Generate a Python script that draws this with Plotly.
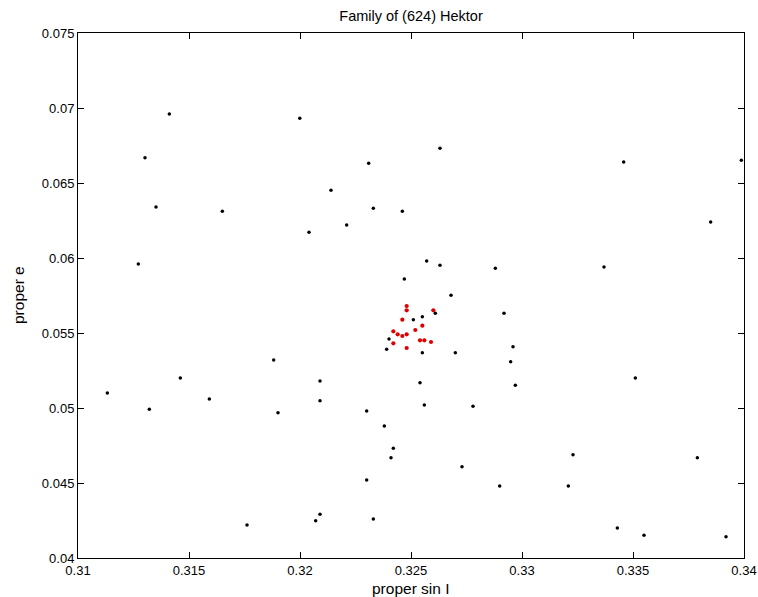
import plotly.graph_objects as go

# Background asteroids (proper sin I, proper e)
bg_sini = [
    0.314114, 0.313018, 0.313514, 0.316502, 0.312718,
    0.319990, 0.326306, 0.323093, 0.321396, 0.323303, 0.324610, 0.322102,
    0.320405, 0.325706, 0.326306, 0.328799, 0.324700, 0.326802,
    0.334580, 0.339880, 0.338498, 0.333694,
    0.318814, 0.314610, 0.311321, 0.315916, 0.313213, 0.319009, 0.317613,
    0.329189, 0.326096, 0.325511, 0.325105, 0.324009, 0.323904, 0.325511,
    0.326997, 0.329595, 0.329489, 0.329700, 0.320901, 0.325405, 0.320901,
    0.325601, 0.327793, 0.323003, 0.323799, 0.324204, 0.324099, 0.327297,
    0.323003, 0.328994, 0.320901, 0.320706, 0.323303,
    0.335105, 0.332297, 0.337898, 0.332087, 0.334294, 0.335495, 0.339189,
]
bg_e = [
    0.069600, 0.066689, 0.063400, 0.063111, 0.059600,
    0.069311, 0.067311, 0.066311, 0.064511, 0.063311, 0.063111, 0.062200,
    0.061711, 0.059800, 0.059511, 0.059311, 0.058600, 0.057520,
    0.066400, 0.066511, 0.062400, 0.059400,
    0.053200, 0.052000, 0.051000, 0.050600, 0.049911, 0.049689, 0.042200,
    0.056311, 0.056311, 0.056089, 0.055889, 0.054600, 0.053911, 0.053689,
    0.053689, 0.054089, 0.053089, 0.051511, 0.051800, 0.051689, 0.050489,
    0.050200, 0.050111, 0.049800, 0.048800, 0.047311, 0.046689, 0.046089,
    0.045200, 0.044800, 0.042911, 0.042489, 0.042600,
    0.052000, 0.046889, 0.046689, 0.044800, 0.042000, 0.041511, 0.041422,
]

# Family members
fam_sini = [
    0.324805, 0.324805, 0.326006, 0.324610, 0.325511, 0.325195, 0.324204,
    0.324399, 0.324610, 0.324805, 0.325405, 0.325601, 0.325901, 0.324204,
    0.324805,
]
fam_e = [
    0.056800, 0.056511, 0.056511, 0.055889, 0.055489, 0.055200, 0.055111,
    0.054911, 0.054800, 0.054911, 0.054511, 0.054511, 0.054400, 0.054311,
    0.054000,
]

x_ticks = [0.31, 0.315, 0.32, 0.325, 0.33, 0.335, 0.34]
x_tick_text = ["0.31", "0.315", "0.32", "0.325", "0.33", "0.335", "0.34"]
y_ticks = [0.04, 0.045, 0.05, 0.055, 0.06, 0.065, 0.07, 0.075]
y_tick_text = ["0.04", "0.045", "0.05", "0.055", "0.06", "0.065", "0.07", "0.075"]

FONT = "Liberation Sans, Arial, Helvetica, sans-serif"
W, H = 758, 597
ML, MR, MT, MB = 78, 14, 33, 39

fig = go.Figure()
fig.add_trace(go.Scatter(
    x=bg_sini, y=bg_e, mode="markers",
    marker=dict(color="black", size=3.5, line=dict(width=0)),
    showlegend=False,
))
fig.add_trace(go.Scatter(
    x=fam_sini, y=fam_e, mode="markers",
    marker=dict(color="#e00000", size=4.2, line=dict(width=0)),
    showlegend=False,
))

axis_common = dict(
    showgrid=False, zeroline=False, automargin=False,
    showline=True, linecolor="black", linewidth=1,
    mirror="ticks", ticks="inside", ticklen=6, tickcolor="black", tickwidth=1,
    tickfont=dict(family=FONT, size=13, color="black"),
)

# Axis titles placed in pixel terms relative to the plotting area
pw, ph = W - ML - MR, H - MT - MB
fig.add_annotation(
    text="proper sin I", xref="paper", yref="paper",
    x=(411 - ML) / pw, y=-(588 - (H - MB)) / ph,
    xanchor="center", yanchor="middle", showarrow=False,
    font=dict(family=FONT, size=15.5, color="black"),
)
fig.add_annotation(
    text="proper e", xref="paper", yref="paper",
    x=-(ML - 18) / pw, y=((H - MB) - 295) / ph,
    xanchor="center", yanchor="middle", showarrow=False, textangle=-90,
    font=dict(family=FONT, size=15.5, color="black"),
)

fig.update_layout(
    width=W, height=H,
    margin=dict(l=ML, r=MR, t=MT, b=MB),
    paper_bgcolor="white", plot_bgcolor="white",
    title=dict(text="Family of (624) Hektor", x=411 / W, xanchor="center",
               y=1 - 16 / H, yanchor="middle",
               font=dict(family=FONT, size=14.5, color="black")),
    xaxis=dict(range=[0.31, 0.34], tickvals=x_ticks, ticktext=x_tick_text,
               **axis_common),
    yaxis=dict(range=[0.04, 0.075], tickvals=y_ticks, ticktext=y_tick_text,
               **axis_common),
)

fig.write_html("out.html")
